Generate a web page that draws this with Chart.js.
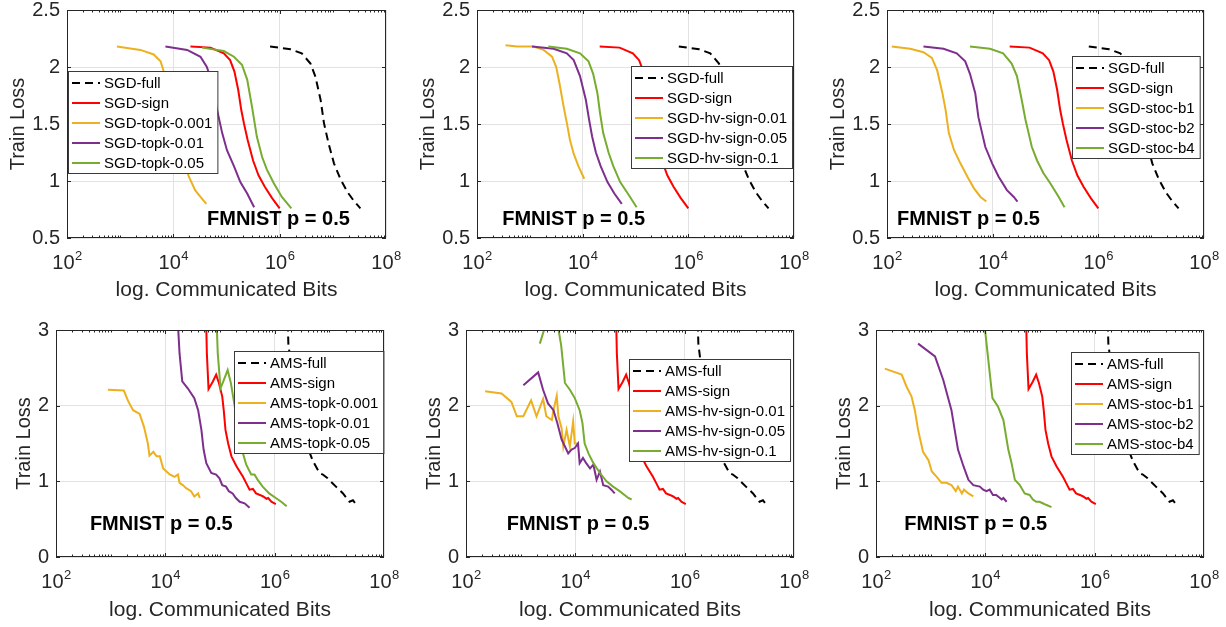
<!DOCTYPE html>
<html>
<head>
<meta charset="utf-8">
<script src="https://cdn.jsdelivr.net/npm/chart.js@4.4.0/dist/chart.umd.min.js"></script>
<style>
  html, body { margin:0; padding:0; background:#fff; }
  #wrap { position:relative; width:1226px; height:627px; overflow:hidden; }
  #wrap canvas { position:absolute; }
</style>
</head>
<body>
<div id="wrap"></div>
<script>
// ---- tick values ----
const xTickValues = [1e2, 1e4, 1e6, 1e8];
const yTicksSgd = [0.5, 1, 1.5, 2, 2.5];
const yTicksAms = [0, 1, 2, 3];

// ---- SGD runs (communicated bits, train loss) ----
const sgdFullBits = [6.6e5, 1.6e6, 2.6e6, 3.8e6, 4.7e6, 5.9e6, 6.8e6, 8.3e6, 1.05e7, 1.38e7, 1.9e7, 2.45e7, 3.3e7];
const sgdFullLoss = [2.18, 2.155, 2.12, 2.03, 1.915, 1.71, 1.51, 1.33, 1.155, 1.02, 0.90, 0.83, 0.76];
const sgdSignBits = [2.1e4, 5.0e4, 8.9e4, 1.17e5, 1.41e5, 1.66e5, 1.9e5, 2.14e5, 2.5e5, 3.16e5, 4.0e5, 5.25e5, 7.2e5, 1.0e6];
const sgdSignLoss = [2.18, 2.17, 2.12, 2.06, 1.96, 1.80, 1.62, 1.50, 1.36, 1.18, 1.05, 0.95, 0.85, 0.76];

const sgdTopk0001Bits = [870, 2400, 4270, 5750, 6600, 7600, 9300, 1.17e4, 1.45e4, 1.95e4, 2.57e4, 3.24e4, 4.17e4];
const sgdTopk0001Loss = [2.18, 2.15, 2.11, 2.05, 1.96, 1.83, 1.62, 1.42, 1.24, 1.04, 0.92, 0.86, 0.80];
const sgdTopk001Bits = [7100, 1.82e4, 3.24e4, 4.27e4, 5.37e4, 6.46e4, 8.3e4, 1.02e5, 1.38e5, 1.82e5, 2.45e5, 3.31e5];
const sgdTopk001Loss = [2.18, 2.15, 2.09, 2.00, 1.86, 1.65, 1.42, 1.27, 1.13, 0.99, 0.89, 0.77];
const sgdTopk005Bits = [3.47e4, 8.9e4, 1.38e5, 1.95e5, 2.45e5, 3.02e5, 3.72e5, 4.68e5, 5.75e5, 7.76e5, 1.1e6, 1.66e6];
const sgdTopk005Loss = [2.17, 2.14, 2.09, 2.02, 1.89, 1.65, 1.39, 1.21, 1.10, 0.98, 0.86, 0.76];

const sgdHv001Bits = [347, 575, 1175, 1820, 2630, 3160, 3630, 4370, 5010, 5750, 6760, 8300, 1.07e4];
const sgdHv001Loss = [2.19, 2.18, 2.18, 2.15, 2.09, 2.00, 1.86, 1.65, 1.51, 1.36, 1.24, 1.13, 1.02];
const sgdHv005Bits = [1100, 2820, 5010, 6760, 8900, 1.15e4, 1.32e4, 1.51e4, 1.78e4, 2.19e4, 2.95e4, 3.98e4, 5.5e4];
const sgdHv005Loss = [2.18, 2.16, 2.12, 2.06, 1.92, 1.71, 1.54, 1.39, 1.25, 1.13, 0.99, 0.89, 0.80];
const sgdHv01Bits = [2240, 5010, 8900, 1.29e4, 1.58e4, 1.9e4, 2.14e4, 2.45e4, 3.09e4, 3.8e4, 5.13e4, 7.41e4, 1.05e5];
const sgdHv01Loss = [2.18, 2.16, 2.12, 2.05, 1.94, 1.77, 1.59, 1.42, 1.25, 1.13, 0.99, 0.88, 0.77];

const sgdStocB1Bits = [123, 275, 490, 708, 891, 1120, 1290, 1480, 1860, 2450, 3310, 4370, 5890, 7590];
const sgdStocB1Loss = [2.18, 2.16, 2.13, 2.08, 1.97, 1.77, 1.62, 1.42, 1.27, 1.155, 1.04, 0.94, 0.86, 0.82];
const sgdStocB2Bits = [490, 1175, 2090, 3020, 3720, 4680, 5370, 6310, 7240, 9770, 1.29e4, 1.86e4, 2.51e4, 2.95e4];
const sgdStocB2Loss = [2.18, 2.16, 2.12, 2.05, 1.94, 1.77, 1.56, 1.42, 1.30, 1.155, 1.04, 0.92, 0.86, 0.82];
const sgdStocB4Bits = [3720, 8900, 1.58e4, 2.29e4, 2.88e4, 3.55e4, 4.17e4, 4.79e4, 5.5e4, 6.92e4, 9.1e4, 1.23e5, 1.78e5, 2.29e5];
const sgdStocB4Loss = [2.18, 2.16, 2.12, 2.03, 1.92, 1.71, 1.54, 1.42, 1.30, 1.18, 1.07, 0.98, 0.86, 0.77];

// ---- AMS runs ----
const amsFullBits = [1.66e6, 1.78e6, 1.9e6, 2.4e6, 3.16e6, 4.0e6, 5.0e6, 6.6e6, 7.6e6, 9.3e6, 1.32e7, 1.78e7, 2.34e7, 2.7e7, 3.3e7];
const amsFullLoss = [3.6, 2.82, 2.65, 2.1, 1.7, 1.45, 1.27, 1.11, 1.09, 1.04, 0.93, 0.84, 0.73, 0.75, 0.67];
const amsSignBits = [5.4e4, 5.75e4, 6.17e4, 7.41e4, 8.5e4, 9.55e4, 1.1e5, 1.17e5, 1.26e5, 1.41e5, 1.62e5, 2.0e5, 2.63e5, 3.0e5, 3.47e5, 4.0e5, 4.57e5, 5.37e5, 6.17e5, 7.08e5, 7.59e5, 8.7e5, 1.05e6];
const amsSignLoss = [3.6, 2.69, 2.22, 2.32, 2.41, 2.30, 2.12, 1.94, 1.68, 1.50, 1.33, 1.20, 1.06, 0.98, 0.89, 0.90, 0.84, 0.82, 0.80, 0.77, 0.78, 0.73, 0.70];

const amsTopk0001Bits = [891, 1740, 2090, 2570, 3390, 4070, 4790, 5130, 6030, 6920, 7940, 9120, 1.05e4, 1.2e4, 1.48e4, 1.7e4, 1.82e4, 2.09e4, 2.4e4, 2.95e4, 3.39e4, 3.98e4, 4.27e4];
const amsTopk0001Loss = [2.21, 2.20, 2.06, 1.94, 1.89, 1.72, 1.50, 1.34, 1.39, 1.33, 1.33, 1.17, 1.13, 1.09, 1.06, 1.09, 0.98, 0.95, 0.91, 0.87, 0.80, 0.84, 0.78];
const amsTopk001Bits = [1.58e4, 1.82e4, 2.04e4, 2.57e4, 3.39e4, 3.98e4, 4.57e4, 5.01e4, 5.62e4, 6.92e4, 8.5e4, 9.77e4, 1.1e5, 1.29e5, 1.45e5, 1.7e5, 1.95e5, 2.29e5, 2.82e5, 3.47e5];
const amsTopk001Loss = [3.5, 2.69, 2.32, 2.23, 2.10, 1.94, 1.68, 1.42, 1.24, 1.11, 1.09, 1.04, 0.95, 0.93, 0.87, 0.84, 0.78, 0.73, 0.71, 0.65];
const amsTopk005Bits = [8.3e4, 9.1e4, 9.77e4, 1.02e5, 1.15e5, 1.38e5, 1.58e5, 1.82e5, 2.09e5, 2.34e5, 2.63e5, 3.02e5, 3.72e5, 4.27e5, 4.9e5, 6.03e5, 7.94e5, 1.05e6, 1.32e6, 1.66e6];
const amsTopk005Loss = [3.5, 2.69, 2.41, 2.23, 2.32, 2.47, 2.30, 2.03, 1.77, 1.55, 1.37, 1.22, 1.09, 1.09, 1.02, 0.93, 0.84, 0.78, 0.73, 0.67];

const amsHv001Bits = [224, 447, 676, 851, 1120, 1550, 1950, 2570, 2950, 3720, 3980, 4570, 4900, 5620, 6030, 6920, 7940, 9120, 9770, 1.12e4];
const amsHv001Loss = [2.19, 2.16, 2.05, 1.86, 1.86, 2.07, 1.86, 2.09, 1.86, 1.81, 1.94, 2.13, 1.86, 1.70, 1.46, 1.68, 1.46, 1.79, 1.50, 1.50];
const amsHv005Bits = [1120, 2090, 2570, 3160, 3980, 4680, 5620, 6460, 7410, 8510, 9770, 1.12e4, 1.2e4, 1.38e4, 1.58e4, 1.86e4, 2.14e4, 2.45e4, 2.82e4, 3.24e4, 3.98e4, 4.57e4, 5.25e4];
const amsHv005Loss = [2.27, 2.44, 2.21, 2.03, 1.94, 1.77, 1.55, 1.46, 1.37, 1.42, 1.44, 1.50, 1.24, 1.31, 1.24, 1.17, 1.22, 1.02, 1.13, 0.95, 0.93, 0.89, 0.84];
const amsHv01Bits = [2240, 3980, 5500, 6460, 7940, 9770, 1.2e4, 1.35e4, 1.48e4, 1.74e4, 2.14e4, 2.82e4, 3.72e4, 4.9e4, 6.46e4, 7.94e4, 9.33e4, 1.07e5];
const amsHv01Loss = [2.82, 3.4, 2.8, 2.30, 2.21, 2.10, 1.94, 1.77, 1.50, 1.37, 1.24, 1.11, 1.00, 0.93, 0.87, 0.82, 0.78, 0.76];

const amsStocB1Bits = [145, 295, 363, 447, 513, 589, 724, 912, 1050, 1290, 1580, 1950, 2400, 2880, 3160, 3720, 4070, 4900, 6030];
const amsStocB1Loss = [2.49, 2.41, 2.25, 2.12, 1.94, 1.68, 1.39, 1.28, 1.13, 1.06, 0.98, 0.98, 0.95, 0.87, 0.93, 0.84, 0.89, 0.84, 0.80];
const amsStocB2Bits = [589, 1200, 1700, 2400, 2750, 3160, 3980, 4900, 6030, 7940, 9120, 1.05e4, 1.2e4, 1.38e4, 1.58e4, 2.0e4, 2.14e4, 2.45e4];
const amsStocB2Loss = [2.82, 2.65, 2.34, 1.94, 1.68, 1.42, 1.20, 1.02, 0.95, 0.93, 0.89, 0.87, 0.89, 0.82, 0.82, 0.76, 0.78, 0.73];
const amsStocB4Bits = [4570, 6310, 9550, 1.35e4, 1.7e4, 2.14e4, 2.63e4, 3.02e4, 3.47e4, 4.27e4, 5.25e4, 6.46e4, 7.41e4, 8.5e4, 9.77e4, 1.12e5, 1.29e5, 1.62e5];
const amsStocB4Loss = [2.97, 3.5, 3.1, 2.10, 1.99, 1.81, 1.42, 1.24, 1.02, 0.95, 0.84, 0.82, 0.76, 0.73, 0.73, 0.71, 0.69, 0.66];

// ---- look ----
const FONT = '"Liberation Sans", Arial, Helvetica, sans-serif';
const AXIS_C = '#262626';
const GRID_C = '#e2e2e2';
const lineStyles = [
  { color:'#000000', dash:[8,5] },
  { color:'#ff0000', dash:[] },
  { color:'#edb120', dash:[] },
  { color:'#7e2f8e', dash:[] },
  { color:'#77ac30', dash:[] }
];

// plot = [left, top, right, bottom] of the axes box on the page
const panels = [
  { plot:[67,10,386,238], yMin:0.5, yMax:2.5, yTicks:yTicksSgd, legendAt:[1,61], noteAt:[4.3e4,0.614],
    series:[['SGD-full',sgdFullBits,sgdFullLoss],['SGD-sign',sgdSignBits,sgdSignLoss],['SGD-topk-0.001',sgdTopk0001Bits,sgdTopk0001Loss],['SGD-topk-0.01',sgdTopk001Bits,sgdTopk001Loss],['SGD-topk-0.05',sgdTopk005Bits,sgdTopk005Loss]] },
  { plot:[477,10,794,238], yMin:0.5, yMax:2.5, yTicks:yTicksSgd, legendAt:[154,56], noteAt:[300,0.614],
    series:[['SGD-full',sgdFullBits,sgdFullLoss],['SGD-sign',sgdSignBits,sgdSignLoss],['SGD-hv-sign-0.01',sgdHv001Bits,sgdHv001Loss],['SGD-hv-sign-0.05',sgdHv005Bits,sgdHv005Loss],['SGD-hv-sign-0.1',sgdHv01Bits,sgdHv01Loss]] },
  { plot:[887,10,1204,238], yMin:0.5, yMax:2.5, yTicks:yTicksSgd, legendAt:[185,46], noteAt:[155,0.614],
    series:[['SGD-full',sgdFullBits,sgdFullLoss],['SGD-sign',sgdSignBits,sgdSignLoss],['SGD-stoc-b1',sgdStocB1Bits,sgdStocB1Loss],['SGD-stoc-b2',sgdStocB2Bits,sgdStocB2Loss],['SGD-stoc-b4',sgdStocB4Bits,sgdStocB4Loss]] },
  { plot:[56,330,384,557], yMin:0, yMax:3, yTicks:yTicksAms, legendAt:[178,21], noteAt:[417,0.357],
    series:[['AMS-full',amsFullBits,amsFullLoss],['AMS-sign',amsSignBits,amsSignLoss],['AMS-topk-0.001',amsTopk0001Bits,amsTopk0001Loss],['AMS-topk-0.01',amsTopk001Bits,amsTopk001Loss],['AMS-topk-0.05',amsTopk005Bits,amsTopk005Loss]] },
  { plot:[466,330,794,557], yMin:0, yMax:3, yTicks:yTicksAms, legendAt:[163,29], noteAt:[555,0.357],
    series:[['AMS-full',amsFullBits,amsFullLoss],['AMS-sign',amsSignBits,amsSignLoss],['AMS-hv-sign-0.01',amsHv001Bits,amsHv001Loss],['AMS-hv-sign-0.05',amsHv005Bits,amsHv005Loss],['AMS-hv-sign-0.1',amsHv01Bits,amsHv01Loss]] },
  { plot:[876,330,1204,557], yMin:0, yMax:3, yTicks:yTicksAms, legendAt:[195,22], noteAt:[330,0.357],
    series:[['AMS-full',amsFullBits,amsFullLoss],['AMS-sign',amsSignBits,amsSignLoss],['AMS-stoc-b1',amsStocB1Bits,amsStocB1Loss],['AMS-stoc-b2',amsStocB2Bits,amsStocB2Loss],['AMS-stoc-b4',amsStocB4Bits,amsStocB4Loss]] }
];

Chart.defaults.font.family = FONT;

// matlab-like box, inside ticks, superscript x labels, note and legend
const matlabAxes = {
  id:'matlabAxes',
  afterDatasetsDraw(chart, args, o){
    const {ctx, chartArea:a, scales:{x, y}} = chart;
    ctx.save();
    ctx.strokeStyle = AXIS_C; ctx.lineWidth = 1; ctx.setLineDash([]);
    ctx.beginPath();
    for (let e = 2; e < 8; e++) {
      for (let m = 1; m < 10; m++) {
        const v = m * Math.pow(10, e);
        const px = Math.round(x.getPixelForValue(v)) + 0.5;
        const len = xTickValues.includes(v) ? 4 : 2.5;
        ctx.moveTo(px, a.bottom); ctx.lineTo(px, a.bottom - len);
        ctx.moveTo(px, a.top); ctx.lineTo(px, a.top + len);
      }
    }
    y.ticks.forEach(t => {
      const py = Math.round(y.getPixelForValue(t.value)) + 0.5;
      ctx.moveTo(a.left, py); ctx.lineTo(a.left + 4, py);
      ctx.moveTo(a.right, py); ctx.lineTo(a.right - 4, py);
    });
    ctx.stroke();
    ctx.strokeRect(a.left + 0.5, a.top + 0.5, a.right - a.left - 1, a.bottom - a.top - 1);

    // x tick labels 10^n
    ctx.fillStyle = AXIS_C;
    ctx.textBaseline = 'alphabetic'; ctx.textAlign = 'left';
    xTickValues.forEach(v => {
      const e = String(Math.round(Math.log10(v)));
      const px = x.getPixelForValue(v);
      ctx.font = '20px ' + FONT; const w1 = ctx.measureText('10').width;
      ctx.font = '13px ' + FONT; const w2 = ctx.measureText(e).width;
      const sx = px - (w1 + w2) / 2;
      ctx.font = '20px ' + FONT; ctx.fillText('10', sx, a.bottom + 31);
      ctx.font = '13px ' + FONT; ctx.fillText(e, sx + w1 + 0.5, a.bottom + 22);
    });

    // note
    ctx.fillStyle = '#000';
    ctx.font = 'bold 20px ' + FONT;
    ctx.fillText('FMNIST p = 0.5', x.getPixelForValue(o.noteAt[0]), y.getPixelForValue(o.noteAt[1]));

    // legend
    const ds = chart.data.datasets;
    ctx.font = '15px ' + FONT;
    const tw = Math.max(...ds.map(d => ctx.measureText(d.label).width));
    const bx = a.left + o.legendAt[0], by = a.top + o.legendAt[1];
    const bw = 36 + tw + 5, bh = 12 + 20 * (ds.length - 1) + 10;
    ctx.fillStyle = '#fff'; ctx.fillRect(bx, by, bw, bh);
    ctx.strokeStyle = '#3a3a3a'; ctx.lineWidth = 1;
    ctx.strokeRect(bx + 0.5, by + 0.5, bw, bh);
    ctx.textBaseline = 'middle';
    ds.forEach((d, i) => {
      const cy = by + 12 + 20 * i;
      ctx.strokeStyle = d.borderColor; ctx.lineWidth = d.borderWidth;
      ctx.setLineDash(d.borderDash);
      ctx.beginPath(); ctx.moveTo(bx + 4, cy); ctx.lineTo(bx + 32, cy); ctx.stroke();
      ctx.fillStyle = '#000';
      ctx.fillText(d.label, bx + 36, cy + 1);
    });
    ctx.restore();
  }
};

const wrap = document.getElementById('wrap');
panels.forEach((p, pi) => {
  const top = pi < 3;
  const AW = top ? 67 : 50;       // y axis strip width
  const XH = top ? 65 : 66;       // x axis strip height
  const PR = 18;                  // room right of the box for the 10^8 label
  const [L, T, R, B] = p.plot;
  const canvas = document.createElement('canvas');
  canvas.width = R + PR - (L - AW);
  canvas.height = B + XH - (T - 10);
  canvas.style.left = (L - AW) + 'px';
  canvas.style.top = (T - 10) + 'px';
  wrap.appendChild(canvas);

  const n = p.series.length;
  const datasets = p.series.map((s, i) => ({
    label: s[0],
    data: s[1].map((b, k) => ({ x: b, y: s[2][k] })),
    borderColor: lineStyles[i].color,
    borderDash: lineStyles[i].dash,
    borderWidth: 2,
    pointRadius: 0,
    tension: 0,
    fill: false,
    clip: 0,
    order: n - i
  }));

  new Chart(canvas, {
    type: 'line',
    data: { datasets },
    options: {
      responsive: false,
      animation: false,
      devicePixelRatio: 1,
      layout: { padding: { top: 10, right: PR, left: 0, bottom: 0 } },
      plugins: {
        legend: { display: false },
        tooltip: { enabled: false },
        matlabAxes: { legendAt: p.legendAt, noteAt: p.noteAt }
      },
      scales: {
        x: {
          type: 'logarithmic', min: 1e2, max: 1e8,
          afterBuildTicks: s => { s.ticks = xTickValues.map(v => ({ value: v })); },
          afterFit: s => { s.height = XH; s.paddingLeft = 0; s.paddingRight = 0; },
          ticks: { display: false },
          grid: { color: GRID_C, drawTicks: false },
          border: { display: false },
          title: { display: true, text: 'log. Communicated Bits', color: AXIS_C, font: { size: 21 }, padding: 0 }
        },
        y: {
          min: p.yMin, max: p.yMax,
          afterBuildTicks: s => { s.ticks = p.yTicks.map(v => ({ value: v })); },
          afterFit: s => { s.width = AW; s.paddingTop = 0; s.paddingBottom = 0; },
          ticks: { padding: 7, color: AXIS_C, font: { size: 20 }, callback: v => String(v), autoSkip: false },
          grid: { color: GRID_C, drawTicks: false },
          border: { display: false },
          title: { display: true, text: 'Train Loss', color: AXIS_C, font: { size: 20 }, padding: { top: 6, bottom: 0 } }
        }
      }
    },
    plugins: [matlabAxes]
  });
});
</script>
</body>
</html>
